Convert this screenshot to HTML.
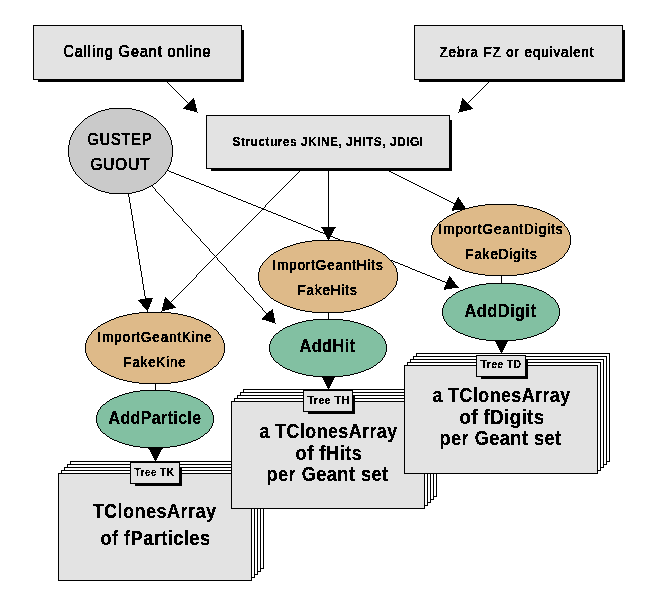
<!DOCTYPE html>
<html><head><meta charset="utf-8"><style>
html,body{margin:0;padding:0;background:#fff;overflow:hidden}
svg{display:block;will-change:transform}
</style></head><body>
<svg width="659" height="607" viewBox="0 0 659 607" shape-rendering="crispEdges">
<path fill="#000" d="M166 81h1v1h-1zM489 81h1v1h-1zM167 82h1v1h-1zM488 82h1v1h-1zM168 83h1v1h-1zM487 83h1v1h-1zM169 84h1v1h-1zM486 84h1v1h-1zM170 85h1v1h-1zM485 85h1v1h-1zM171 86h1v1h-1zM484 86h1v1h-1zM172 87h1v1h-1zM483 87h1v1h-1zM173 88h1v1h-1zM482 88h1v1h-1zM174 89h1v1h-1zM481 89h1v1h-1zM175 90h1v1h-1zM480 90h1v1h-1zM176 91h1v1h-1zM479 91h1v1h-1zM177 92h1v1h-1zM478 92h1v1h-1zM178 93h1v1h-1zM477 93h1v1h-1zM179 94h1v1h-1zM476 94h1v1h-1zM180 95h1v1h-1zM475 95h1v1h-1zM181 96h1v1h-1zM474 96h1v1h-1zM182 97h1v1h-1zM473 97h1v1h-1zM183 98h1v1h-1zM193 98h1v1h-1zM462 98h1v1h-1zM472 98h1v1h-1zM184 99h1v1h-1zM192 99h2v1h-2zM462 99h2v1h-2zM471 99h1v1h-1zM185 100h1v1h-1zM191 100h4v1h-4zM462 100h3v1h-3zM470 100h1v1h-1zM186 101h1v1h-1zM190 101h5v1h-5zM461 101h5v1h-5zM469 101h1v1h-1zM187 102h1v1h-1zM189 102h6v1h-6zM461 102h6v1h-6zM468 102h1v1h-1zM188 103h7v1h-7zM461 103h7v1h-7zM187 104h9v1h-9zM461 104h8v1h-8zM186 105h10v1h-10zM460 105h10v1h-10zM185 106h11v1h-11zM460 106h11v1h-11zM184 107h12v1h-12zM460 107h12v1h-12zM183 108h14v1h-14zM460 108h13v1h-13zM186 109h11v1h-11zM459 109h12v1h-12zM190 110h7v1h-7zM459 110h8v1h-8zM194 111h3v1h-3zM459 111h4v1h-4zM197 112h1v1h-1zM458 112h1v1h-1zM328 169h1v1h-1zM167 170h2v1h-2zM300 170h1v1h-1zM328 170h1v1h-1zM387 170h2v1h-2zM169 171h2v1h-2zM299 171h1v1h-1zM328 171h1v1h-1zM389 171h2v1h-2zM171 172h3v1h-3zM298 172h1v1h-1zM328 172h1v1h-1zM391 172h2v1h-2zM174 173h2v1h-2zM297 173h1v1h-1zM328 173h1v1h-1zM393 173h2v1h-2zM176 174h3v1h-3zM296 174h1v1h-1zM328 174h1v1h-1zM395 174h2v1h-2zM179 175h2v1h-2zM295 175h1v1h-1zM328 175h1v1h-1zM397 175h2v1h-2zM181 176h3v1h-3zM294 176h1v1h-1zM328 176h1v1h-1zM399 176h2v1h-2zM184 177h2v1h-2zM293 177h1v1h-1zM328 177h1v1h-1zM401 177h2v1h-2zM186 178h3v1h-3zM292 178h1v1h-1zM328 178h1v1h-1zM403 178h2v1h-2zM189 179h2v1h-2zM291 179h1v1h-1zM328 179h1v1h-1zM405 179h2v1h-2zM191 180h3v1h-3zM290 180h1v1h-1zM328 180h1v1h-1zM407 180h2v1h-2zM194 181h2v1h-2zM289 181h1v1h-1zM328 181h1v1h-1zM409 181h2v1h-2zM196 182h3v1h-3zM288 182h1v1h-1zM328 182h1v1h-1zM411 182h2v1h-2zM199 183h2v1h-2zM287 183h1v1h-1zM328 183h1v1h-1zM413 183h2v1h-2zM201 184h3v1h-3zM286 184h1v1h-1zM328 184h1v1h-1zM415 184h2v1h-2zM151 185h1v1h-1zM204 185h2v1h-2zM285 185h1v1h-1zM328 185h1v1h-1zM417 185h2v1h-2zM152 186h1v1h-1zM206 186h3v1h-3zM284 186h1v1h-1zM328 186h1v1h-1zM419 186h2v1h-2zM153 187h1v1h-1zM209 187h2v1h-2zM283 187h1v1h-1zM328 187h1v1h-1zM421 187h2v1h-2zM154 188h1v1h-1zM211 188h3v1h-3zM282 188h1v1h-1zM328 188h1v1h-1zM423 188h2v1h-2zM155 189h1v1h-1zM214 189h2v1h-2zM281 189h1v1h-1zM328 189h1v1h-1zM425 189h2v1h-2zM155 190h1v1h-1zM216 190h2v1h-2zM280 190h1v1h-1zM328 190h1v1h-1zM427 190h2v1h-2zM156 191h1v1h-1zM218 191h3v1h-3zM279 191h1v1h-1zM328 191h1v1h-1zM429 191h2v1h-2zM157 192h1v1h-1zM221 192h2v1h-2zM278 192h1v1h-1zM328 192h1v1h-1zM431 192h2v1h-2zM128 193h1v1h-1zM158 193h1v1h-1zM223 193h3v1h-3zM277 193h1v1h-1zM328 193h1v1h-1zM433 193h2v1h-2zM128 194h1v1h-1zM159 194h1v1h-1zM226 194h2v1h-2zM276 194h1v1h-1zM328 194h1v1h-1zM435 194h2v1h-2zM128 195h1v1h-1zM160 195h1v1h-1zM228 195h3v1h-3zM275 195h1v1h-1zM328 195h1v1h-1zM437 195h2v1h-2zM128 196h1v1h-1zM161 196h1v1h-1zM231 196h2v1h-2zM274 196h1v1h-1zM328 196h1v1h-1zM439 196h2v1h-2zM129 197h1v1h-1zM162 197h1v1h-1zM233 197h3v1h-3zM273 197h1v1h-1zM328 197h1v1h-1zM441 197h2v1h-2zM458 197h1v1h-1zM129 198h1v1h-1zM163 198h1v1h-1zM236 198h2v1h-2zM272 198h1v1h-1zM328 198h1v1h-1zM443 198h2v1h-2zM457 198h2v1h-2zM129 199h1v1h-1zM164 199h1v1h-1zM238 199h3v1h-3zM271 199h1v1h-1zM328 199h1v1h-1zM445 199h2v1h-2zM457 199h3v1h-3zM129 200h1v1h-1zM164 200h1v1h-1zM241 200h2v1h-2zM270 200h1v1h-1zM328 200h1v1h-1zM447 200h2v1h-2zM456 200h5v1h-5zM129 201h1v1h-1zM165 201h1v1h-1zM243 201h3v1h-3zM269 201h1v1h-1zM328 201h1v1h-1zM449 201h2v1h-2zM456 201h5v1h-5zM129 202h1v1h-1zM166 202h1v1h-1zM246 202h2v1h-2zM268 202h1v1h-1zM328 202h1v1h-1zM451 202h2v1h-2zM455 202h7v1h-7zM130 203h1v1h-1zM167 203h1v1h-1zM248 203h3v1h-3zM267 203h1v1h-1zM328 203h1v1h-1zM453 203h10v1h-10zM130 204h1v1h-1zM168 204h1v1h-1zM251 204h2v1h-2zM266 204h1v1h-1zM328 204h1v1h-1zM454 204h9v1h-9zM130 205h1v1h-1zM169 205h1v1h-1zM253 205h3v1h-3zM265 205h1v1h-1zM328 205h1v1h-1zM454 205h10v1h-10zM130 206h1v1h-1zM170 206h1v1h-1zM256 206h2v1h-2zM265 206h1v1h-1zM328 206h1v1h-1zM453 206h12v1h-12zM130 207h1v1h-1zM171 207h1v1h-1zM258 207h3v1h-3zM264 207h1v1h-1zM328 207h1v1h-1zM453 207h12v1h-12zM130 208h1v1h-1zM172 208h1v1h-1zM261 208h3v1h-3zM328 208h1v1h-1zM452 208h14v1h-14zM131 209h1v1h-1zM173 209h1v1h-1zM262 209h4v1h-4zM328 209h1v1h-1zM452 209h15v1h-15zM131 210h1v1h-1zM173 210h1v1h-1zM261 210h1v1h-1zM266 210h2v1h-2zM328 210h1v1h-1zM452 210h2v1h-2zM131 211h1v1h-1zM174 211h1v1h-1zM260 211h1v1h-1zM268 211h3v1h-3zM328 211h1v1h-1zM131 212h1v1h-1zM175 212h1v1h-1zM259 212h1v1h-1zM271 212h2v1h-2zM328 212h1v1h-1zM131 213h1v1h-1zM176 213h1v1h-1zM258 213h1v1h-1zM273 213h3v1h-3zM328 213h1v1h-1zM131 214h1v1h-1zM177 214h1v1h-1zM257 214h1v1h-1zM276 214h2v1h-2zM328 214h1v1h-1zM132 215h1v1h-1zM178 215h1v1h-1zM256 215h1v1h-1zM278 215h3v1h-3zM328 215h1v1h-1zM132 216h1v1h-1zM179 216h1v1h-1zM255 216h1v1h-1zM281 216h2v1h-2zM328 216h1v1h-1zM132 217h1v1h-1zM180 217h1v1h-1zM254 217h1v1h-1zM283 217h3v1h-3zM328 217h1v1h-1zM132 218h1v1h-1zM181 218h1v1h-1zM253 218h1v1h-1zM286 218h2v1h-2zM328 218h1v1h-1zM132 219h1v1h-1zM182 219h1v1h-1zM252 219h1v1h-1zM288 219h3v1h-3zM328 219h1v1h-1zM132 220h1v1h-1zM182 220h1v1h-1zM251 220h1v1h-1zM291 220h2v1h-2zM328 220h1v1h-1zM133 221h1v1h-1zM183 221h1v1h-1zM250 221h1v1h-1zM293 221h3v1h-3zM328 221h1v1h-1zM133 222h1v1h-1zM184 222h1v1h-1zM249 222h1v1h-1zM296 222h2v1h-2zM328 222h1v1h-1zM133 223h1v1h-1zM185 223h1v1h-1zM248 223h1v1h-1zM298 223h3v1h-3zM328 223h1v1h-1zM133 224h1v1h-1zM186 224h1v1h-1zM247 224h1v1h-1zM301 224h2v1h-2zM328 224h1v1h-1zM133 225h1v1h-1zM187 225h1v1h-1zM246 225h1v1h-1zM303 225h3v1h-3zM328 225h1v1h-1zM133 226h1v1h-1zM188 226h1v1h-1zM245 226h1v1h-1zM306 226h2v1h-2zM328 226h1v1h-1zM133 227h1v1h-1zM189 227h1v1h-1zM244 227h1v1h-1zM308 227h3v1h-3zM321 227h15v1h-15zM134 228h1v1h-1zM190 228h1v1h-1zM243 228h1v1h-1zM311 228h2v1h-2zM322 228h13v1h-13zM134 229h1v1h-1zM191 229h1v1h-1zM242 229h1v1h-1zM313 229h2v1h-2zM323 229h11v1h-11zM134 230h1v1h-1zM191 230h1v1h-1zM241 230h1v1h-1zM315 230h3v1h-3zM323 230h11v1h-11zM134 231h1v1h-1zM192 231h1v1h-1zM240 231h1v1h-1zM318 231h2v1h-2zM324 231h9v1h-9zM134 232h1v1h-1zM193 232h1v1h-1zM239 232h1v1h-1zM320 232h3v1h-3zM324 232h9v1h-9zM134 233h1v1h-1zM194 233h1v1h-1zM238 233h1v1h-1zM323 233h9v1h-9zM135 234h1v1h-1zM195 234h1v1h-1zM237 234h1v1h-1zM325 234h7v1h-7zM135 235h1v1h-1zM196 235h1v1h-1zM236 235h1v1h-1zM326 235h5v1h-5zM135 236h1v1h-1zM197 236h1v1h-1zM235 236h1v1h-1zM326 236h7v1h-7zM135 237h1v1h-1zM198 237h1v1h-1zM234 237h1v1h-1zM327 237h3v1h-3zM333 237h2v1h-2zM135 238h1v1h-1zM199 238h1v1h-1zM233 238h1v1h-1zM327 238h3v1h-3zM335 238h3v1h-3zM135 239h1v1h-1zM200 239h1v1h-1zM232 239h1v1h-1zM328 239h1v1h-1zM338 239h2v1h-2zM136 240h1v1h-1zM200 240h1v1h-1zM231 240h1v1h-1zM328 240h1v1h-1zM340 240h3v1h-3zM136 241h1v1h-1zM201 241h1v1h-1zM230 241h1v1h-1zM343 241h2v1h-2zM136 242h1v1h-1zM202 242h1v1h-1zM229 242h1v1h-1zM345 242h3v1h-3zM136 243h1v1h-1zM203 243h1v1h-1zM228 243h1v1h-1zM348 243h2v1h-2zM136 244h1v1h-1zM204 244h1v1h-1zM227 244h1v1h-1zM350 244h3v1h-3zM136 245h1v1h-1zM205 245h1v1h-1zM226 245h1v1h-1zM353 245h2v1h-2zM137 246h1v1h-1zM206 246h1v1h-1zM225 246h1v1h-1zM355 246h3v1h-3zM137 247h1v1h-1zM207 247h1v1h-1zM224 247h1v1h-1zM358 247h2v1h-2zM137 248h1v1h-1zM208 248h1v1h-1zM223 248h1v1h-1zM360 248h3v1h-3zM137 249h1v1h-1zM209 249h1v1h-1zM222 249h1v1h-1zM363 249h2v1h-2zM137 250h1v1h-1zM209 250h1v1h-1zM221 250h1v1h-1zM365 250h3v1h-3zM137 251h1v1h-1zM210 251h1v1h-1zM220 251h1v1h-1zM368 251h2v1h-2zM138 252h1v1h-1zM211 252h1v1h-1zM219 252h1v1h-1zM370 252h3v1h-3zM138 253h1v1h-1zM212 253h1v1h-1zM218 253h1v1h-1zM373 253h2v1h-2zM138 254h1v1h-1zM213 254h1v1h-1zM217 254h1v1h-1zM375 254h3v1h-3zM138 255h1v1h-1zM214 255h1v1h-1zM216 255h1v1h-1zM378 255h2v1h-2zM138 256h1v1h-1zM215 256h1v1h-1zM380 256h3v1h-3zM138 257h1v1h-1zM214 257h1v1h-1zM216 257h1v1h-1zM383 257h2v1h-2zM138 258h1v1h-1zM213 258h1v1h-1zM217 258h1v1h-1zM385 258h3v1h-3zM139 259h1v1h-1zM212 259h1v1h-1zM217 259h1v1h-1zM388 259h2v1h-2zM139 260h1v1h-1zM211 260h1v1h-1zM218 260h1v1h-1zM390 260h3v1h-3zM139 261h1v1h-1zM210 261h1v1h-1zM219 261h1v1h-1zM393 261h2v1h-2zM139 262h1v1h-1zM209 262h1v1h-1zM220 262h1v1h-1zM395 262h3v1h-3zM139 263h1v1h-1zM208 263h1v1h-1zM221 263h1v1h-1zM398 263h2v1h-2zM139 264h1v1h-1zM207 264h1v1h-1zM222 264h1v1h-1zM400 264h3v1h-3zM140 265h1v1h-1zM206 265h1v1h-1zM223 265h1v1h-1zM403 265h2v1h-2zM140 266h1v1h-1zM205 266h1v1h-1zM224 266h1v1h-1zM405 266h3v1h-3zM140 267h1v1h-1zM204 267h1v1h-1zM225 267h1v1h-1zM408 267h2v1h-2zM140 268h1v1h-1zM203 268h1v1h-1zM226 268h1v1h-1zM410 268h2v1h-2zM140 269h1v1h-1zM202 269h1v1h-1zM226 269h1v1h-1zM412 269h3v1h-3zM140 270h1v1h-1zM201 270h1v1h-1zM227 270h1v1h-1zM415 270h2v1h-2zM141 271h1v1h-1zM200 271h1v1h-1zM228 271h1v1h-1zM417 271h3v1h-3zM141 272h1v1h-1zM199 272h1v1h-1zM229 272h1v1h-1zM420 272h2v1h-2zM141 273h1v1h-1zM198 273h1v1h-1zM230 273h1v1h-1zM422 273h3v1h-3zM141 274h1v1h-1zM197 274h1v1h-1zM231 274h1v1h-1zM425 274h2v1h-2zM141 275h1v1h-1zM196 275h1v1h-1zM232 275h1v1h-1zM427 275h3v1h-3zM501 275h1v1h-1zM141 276h1v1h-1zM196 276h1v1h-1zM233 276h1v1h-1zM430 276h2v1h-2zM449 276h1v1h-1zM501 276h1v1h-1zM142 277h1v1h-1zM195 277h1v1h-1zM234 277h1v1h-1zM432 277h3v1h-3zM449 277h2v1h-2zM501 277h1v1h-1zM142 278h1v1h-1zM194 278h1v1h-1zM235 278h1v1h-1zM435 278h2v1h-2zM448 278h4v1h-4zM501 278h1v1h-1zM142 279h1v1h-1zM193 279h1v1h-1zM235 279h1v1h-1zM437 279h3v1h-3zM448 279h4v1h-4zM501 279h1v1h-1zM142 280h1v1h-1zM192 280h1v1h-1zM236 280h1v1h-1zM440 280h2v1h-2zM447 280h6v1h-6zM501 280h1v1h-1zM142 281h1v1h-1zM191 281h1v1h-1zM237 281h1v1h-1zM442 281h3v1h-3zM447 281h7v1h-7zM501 281h1v1h-1zM142 282h1v1h-1zM190 282h1v1h-1zM238 282h1v1h-1zM445 282h10v1h-10zM501 282h1v1h-1zM142 283h1v1h-1zM189 283h1v1h-1zM239 283h1v1h-1zM446 283h9v1h-9zM501 283h1v1h-1zM143 284h1v1h-1zM188 284h1v1h-1zM240 284h1v1h-1zM446 284h10v1h-10zM143 285h1v1h-1zM187 285h1v1h-1zM241 285h1v1h-1zM445 285h12v1h-12zM143 286h1v1h-1zM186 286h1v1h-1zM242 286h1v1h-1zM445 286h13v1h-13zM143 287h1v1h-1zM185 287h1v1h-1zM243 287h1v1h-1zM444 287h15v1h-15zM143 288h1v1h-1zM184 288h1v1h-1zM244 288h1v1h-1zM444 288h8v1h-8zM143 289h1v1h-1zM183 289h1v1h-1zM244 289h1v1h-1zM444 289h2v1h-2zM144 290h1v1h-1zM182 290h1v1h-1zM245 290h1v1h-1zM144 291h1v1h-1zM181 291h1v1h-1zM246 291h1v1h-1zM144 292h1v1h-1zM180 292h1v1h-1zM247 292h1v1h-1zM144 293h1v1h-1zM179 293h1v1h-1zM248 293h1v1h-1zM144 294h1v1h-1zM178 294h1v1h-1zM249 294h1v1h-1zM144 295h1v1h-1zM177 295h1v1h-1zM250 295h1v1h-1zM145 296h1v1h-1zM176 296h1v1h-1zM251 296h1v1h-1zM145 297h1v1h-1zM165 297h1v1h-1zM175 297h1v1h-1zM252 297h1v1h-1zM145 298h8v1h-8zM165 298h2v1h-2zM174 298h1v1h-1zM253 298h1v1h-1zM140 299h12v1h-12zM164 299h4v1h-4zM173 299h1v1h-1zM253 299h1v1h-1zM138 300h14v1h-14zM164 300h5v1h-5zM172 300h1v1h-1zM254 300h1v1h-1zM139 301h13v1h-13zM164 301h6v1h-6zM171 301h1v1h-1zM255 301h1v1h-1zM140 302h11v1h-11zM164 302h7v1h-7zM256 302h1v1h-1zM141 303h10v1h-10zM163 303h9v1h-9zM257 303h1v1h-1zM142 304h8v1h-8zM163 304h10v1h-10zM258 304h1v1h-1zM142 305h8v1h-8zM163 305h11v1h-11zM259 305h1v1h-1zM143 306h7v1h-7zM163 306h12v1h-12zM260 306h1v1h-1zM144 307h5v1h-5zM162 307h14v1h-14zM261 307h1v1h-1zM145 308h4v1h-4zM162 308h11v1h-11zM262 308h1v1h-1zM146 309h2v1h-2zM162 309h7v1h-7zM262 309h1v1h-1zM272 309h1v1h-1zM147 310h1v1h-1zM162 310h3v1h-3zM263 310h1v1h-1zM271 310h2v1h-2zM147 311h1v1h-1zM161 311h1v1h-1zM264 311h1v1h-1zM269 311h4v1h-4zM265 312h1v1h-1zM268 312h5v1h-5zM328 312h1v1h-1zM266 313h8v1h-8zM328 313h1v1h-1zM266 314h8v1h-8zM328 314h1v1h-1zM265 315h9v1h-9zM328 315h1v1h-1zM264 316h10v1h-10zM328 316h1v1h-1zM263 317h11v1h-11zM328 317h1v1h-1zM262 318h13v1h-13zM328 318h1v1h-1zM262 319h13v1h-13zM328 319h1v1h-1zM266 320h9v1h-9zM269 321h6v1h-6zM272 322h3v1h-3zM275 323h1v1h-1zM494 340h15v1h-15zM495 341h13v1h-13zM496 342h11v1h-11zM496 343h11v1h-11zM497 344h9v1h-9zM497 345h9v1h-9zM498 346h7v1h-7zM498 347h7v1h-7zM499 348h5v1h-5zM499 349h5v1h-5zM500 350h3v1h-3zM500 351h3v1h-3zM501 352h1v1h-1zM501 353h1v1h-1zM321 376h15v1h-15zM322 377h13v1h-13zM323 378h11v1h-11zM323 379h11v1h-11zM324 380h9v1h-9zM324 381h9v1h-9zM325 382h7v1h-7zM155 383h1v1h-1zM325 383h7v1h-7zM155 384h1v1h-1zM326 384h5v1h-5zM155 385h1v1h-1zM326 385h5v1h-5zM155 386h1v1h-1zM327 386h3v1h-3zM155 387h1v1h-1zM327 387h3v1h-3zM155 388h1v1h-1zM328 388h1v1h-1zM155 389h1v1h-1zM328 389h1v1h-1zM155 390h1v1h-1zM148 448h15v1h-15zM149 449h13v1h-13zM150 450h11v1h-11zM150 451h11v1h-11zM151 452h9v1h-9zM151 453h9v1h-9zM152 454h7v1h-7zM152 455h7v1h-7zM153 456h5v1h-5zM153 457h5v1h-5zM154 458h3v1h-3zM154 459h3v1h-3zM155 460h1v1h-1zM155 461h1v1h-1z"/><path fill="#cacaca" d="M109 109h23v1h-23zM105 110h31v1h-31zM101 111h39v1h-39zM98 112h45v1h-45zM96 113h49v1h-49zM94 114h53v1h-53zM92 115h57v1h-57zM90 116h61v1h-61zM88 117h65v1h-65zM87 118h67v1h-67zM85 119h71v1h-71zM84 120h73v1h-73zM83 121h75v1h-75zM82 122h77v1h-77zM81 123h79v1h-79zM80 124h81v1h-81zM79 125h83v1h-83zM78 126h85v1h-85zM77 127h87v1h-87zM76 128h89v1h-89zM76 129h89v1h-89zM75 130h91v1h-91zM74 131h93v1h-93zM74 132h93v1h-93zM73 133h95v1h-95zM73 134h95v1h-95zM72 135h97v1h-97zM72 136h97v1h-97zM71 137h99v1h-99zM71 138h99v1h-99zM71 139h99v1h-99zM70 140h101v1h-101zM70 141h101v1h-101zM70 142h101v1h-101zM70 143h101v1h-101zM70 144h101v1h-101zM69 145h103v1h-103zM69 146h103v1h-103zM69 147h103v1h-103zM69 148h103v1h-103zM69 149h103v1h-103zM69 150h103v1h-103zM69 151h103v1h-103zM69 152h103v1h-103zM69 153h103v1h-103zM69 154h103v1h-103zM69 155h103v1h-103zM69 156h103v1h-103zM70 157h101v1h-101zM70 158h101v1h-101zM70 159h101v1h-101zM70 160h101v1h-101zM70 161h101v1h-101zM71 162h99v1h-99zM71 163h99v1h-99zM71 164h99v1h-99zM72 165h97v1h-97zM72 166h97v1h-97zM73 167h95v1h-95zM73 168h95v1h-95zM74 169h93v1h-93zM74 170h93v1h-93zM75 171h91v1h-91zM76 172h89v1h-89zM76 173h89v1h-89zM77 174h87v1h-87zM78 175h85v1h-85zM79 176h83v1h-83zM80 177h81v1h-81zM81 178h79v1h-79zM82 179h77v1h-77zM83 180h75v1h-75zM84 181h73v1h-73zM85 182h71v1h-71zM87 183h67v1h-67zM88 184h65v1h-65zM90 185h61v1h-61zM92 186h57v1h-57zM94 187h53v1h-53zM96 188h49v1h-49zM98 189h45v1h-45zM101 190h39v1h-39zM105 191h31v1h-31zM109 192h23v1h-23z"/><path fill="#000" d="M109 108h23v1h-23zM105 109h4v1h-4zM132 109h4v1h-4zM101 110h4v1h-4zM136 110h4v1h-4zM98 111h3v1h-3zM140 111h3v1h-3zM96 112h2v1h-2zM143 112h2v1h-2zM94 113h2v1h-2zM145 113h2v1h-2zM92 114h2v1h-2zM147 114h2v1h-2zM90 115h2v1h-2zM149 115h2v1h-2zM88 116h2v1h-2zM151 116h2v1h-2zM87 117h1v1h-1zM153 117h1v1h-1zM85 118h2v1h-2zM154 118h2v1h-2zM84 119h1v1h-1zM156 119h1v1h-1zM83 120h1v1h-1zM157 120h1v1h-1zM82 121h1v1h-1zM158 121h1v1h-1zM81 122h1v1h-1zM159 122h1v1h-1zM80 123h1v1h-1zM160 123h1v1h-1zM79 124h1v1h-1zM161 124h1v1h-1zM78 125h1v1h-1zM162 125h1v1h-1zM77 126h1v1h-1zM163 126h1v1h-1zM76 127h1v1h-1zM164 127h1v1h-1zM75 128h1v1h-1zM165 128h1v1h-1zM75 129h1v1h-1zM165 129h1v1h-1zM74 130h1v1h-1zM166 130h1v1h-1zM73 131h1v1h-1zM167 131h1v1h-1zM73 132h1v1h-1zM167 132h1v1h-1zM72 133h1v1h-1zM168 133h1v1h-1zM72 134h1v1h-1zM168 134h1v1h-1zM71 135h1v1h-1zM169 135h1v1h-1zM71 136h1v1h-1zM169 136h1v1h-1zM70 137h1v1h-1zM170 137h1v1h-1zM70 138h1v1h-1zM170 138h1v1h-1zM70 139h1v1h-1zM170 139h1v1h-1zM69 140h1v1h-1zM171 140h1v1h-1zM69 141h1v1h-1zM171 141h1v1h-1zM69 142h1v1h-1zM171 142h1v1h-1zM69 143h1v1h-1zM171 143h1v1h-1zM69 144h1v1h-1zM171 144h1v1h-1zM68 145h1v1h-1zM172 145h1v1h-1zM68 146h1v1h-1zM172 146h1v1h-1zM68 147h1v1h-1zM172 147h1v1h-1zM68 148h1v1h-1zM172 148h1v1h-1zM68 149h1v1h-1zM172 149h1v1h-1zM68 150h1v1h-1zM172 150h1v1h-1zM68 151h1v1h-1zM172 151h1v1h-1zM68 152h1v1h-1zM172 152h1v1h-1zM68 153h1v1h-1zM172 153h1v1h-1zM68 154h1v1h-1zM172 154h1v1h-1zM68 155h1v1h-1zM172 155h1v1h-1zM68 156h1v1h-1zM172 156h1v1h-1zM69 157h1v1h-1zM171 157h1v1h-1zM69 158h1v1h-1zM171 158h1v1h-1zM69 159h1v1h-1zM171 159h1v1h-1zM69 160h1v1h-1zM171 160h1v1h-1zM69 161h1v1h-1zM171 161h1v1h-1zM70 162h1v1h-1zM170 162h1v1h-1zM70 163h1v1h-1zM170 163h1v1h-1zM70 164h1v1h-1zM170 164h1v1h-1zM71 165h1v1h-1zM169 165h1v1h-1zM71 166h1v1h-1zM169 166h1v1h-1zM72 167h1v1h-1zM168 167h1v1h-1zM72 168h1v1h-1zM168 168h1v1h-1zM73 169h1v1h-1zM167 169h1v1h-1zM73 170h1v1h-1zM167 170h1v1h-1zM74 171h1v1h-1zM166 171h1v1h-1zM75 172h1v1h-1zM165 172h1v1h-1zM75 173h1v1h-1zM165 173h1v1h-1zM76 174h1v1h-1zM164 174h1v1h-1zM77 175h1v1h-1zM163 175h1v1h-1zM78 176h1v1h-1zM162 176h1v1h-1zM79 177h1v1h-1zM161 177h1v1h-1zM80 178h1v1h-1zM160 178h1v1h-1zM81 179h1v1h-1zM159 179h1v1h-1zM82 180h1v1h-1zM158 180h1v1h-1zM83 181h1v1h-1zM157 181h1v1h-1zM84 182h1v1h-1zM156 182h1v1h-1zM85 183h2v1h-2zM154 183h2v1h-2zM87 184h1v1h-1zM153 184h1v1h-1zM88 185h2v1h-2zM151 185h2v1h-2zM90 186h2v1h-2zM149 186h2v1h-2zM92 187h2v1h-2zM147 187h2v1h-2zM94 188h2v1h-2zM145 188h2v1h-2zM96 189h2v1h-2zM143 189h2v1h-2zM98 190h3v1h-3zM140 190h3v1h-3zM101 191h4v1h-4zM136 191h4v1h-4zM105 192h4v1h-4zM132 192h4v1h-4zM109 193h23v1h-23z"/><path fill="#deba89" d="M139 313h32v1h-32zM132 314h46v1h-46zM127 315h56v1h-56zM123 316h64v1h-64zM119 317h72v1h-72zM116 318h78v1h-78zM114 319h82v1h-82zM111 320h88v1h-88zM109 321h92v1h-92zM107 322h96v1h-96zM105 323h100v1h-100zM103 324h104v1h-104zM101 325h108v1h-108zM100 326h110v1h-110zM98 327h114v1h-114zM97 328h116v1h-116zM96 329h118v1h-118zM94 330h122v1h-122zM93 331h124v1h-124zM92 332h126v1h-126zM92 333h126v1h-126zM91 334h128v1h-128zM90 335h130v1h-130zM89 336h132v1h-132zM89 337h132v1h-132zM88 338h134v1h-134zM88 339h134v1h-134zM87 340h136v1h-136zM87 341h136v1h-136zM87 342h136v1h-136zM86 343h138v1h-138zM86 344h138v1h-138zM86 345h138v1h-138zM86 346h138v1h-138zM86 347h138v1h-138zM86 348h138v1h-138zM86 349h138v1h-138zM86 350h138v1h-138zM86 351h138v1h-138zM86 352h138v1h-138zM87 353h136v1h-136zM87 354h136v1h-136zM87 355h136v1h-136zM88 356h134v1h-134zM88 357h134v1h-134zM89 358h132v1h-132zM89 359h132v1h-132zM90 360h130v1h-130zM91 361h128v1h-128zM92 362h126v1h-126zM92 363h126v1h-126zM93 364h124v1h-124zM94 365h122v1h-122zM96 366h118v1h-118zM97 367h116v1h-116zM98 368h114v1h-114zM100 369h110v1h-110zM101 370h108v1h-108zM103 371h104v1h-104zM105 372h100v1h-100zM107 373h96v1h-96zM109 374h92v1h-92zM111 375h88v1h-88zM114 376h82v1h-82zM116 377h78v1h-78zM119 378h72v1h-72zM123 379h64v1h-64zM127 380h56v1h-56zM132 381h46v1h-46zM139 382h32v1h-32z"/><path fill="#000" d="M139 312h32v1h-32zM132 313h7v1h-7zM171 313h7v1h-7zM127 314h5v1h-5zM178 314h5v1h-5zM123 315h4v1h-4zM183 315h4v1h-4zM119 316h4v1h-4zM187 316h4v1h-4zM116 317h3v1h-3zM191 317h3v1h-3zM114 318h2v1h-2zM194 318h2v1h-2zM111 319h3v1h-3zM196 319h3v1h-3zM109 320h2v1h-2zM199 320h2v1h-2zM107 321h2v1h-2zM201 321h2v1h-2zM105 322h2v1h-2zM203 322h2v1h-2zM103 323h2v1h-2zM205 323h2v1h-2zM101 324h2v1h-2zM207 324h2v1h-2zM100 325h1v1h-1zM209 325h1v1h-1zM98 326h2v1h-2zM210 326h2v1h-2zM97 327h1v1h-1zM212 327h1v1h-1zM96 328h1v1h-1zM213 328h1v1h-1zM94 329h2v1h-2zM214 329h2v1h-2zM93 330h1v1h-1zM216 330h1v1h-1zM92 331h1v1h-1zM217 331h1v1h-1zM91 332h1v1h-1zM218 332h1v1h-1zM91 333h1v1h-1zM218 333h1v1h-1zM90 334h1v1h-1zM219 334h1v1h-1zM89 335h1v1h-1zM220 335h1v1h-1zM88 336h1v1h-1zM221 336h1v1h-1zM88 337h1v1h-1zM221 337h1v1h-1zM87 338h1v1h-1zM222 338h1v1h-1zM87 339h1v1h-1zM222 339h1v1h-1zM86 340h1v1h-1zM223 340h1v1h-1zM86 341h1v1h-1zM223 341h1v1h-1zM86 342h1v1h-1zM223 342h1v1h-1zM85 343h1v1h-1zM224 343h1v1h-1zM85 344h1v1h-1zM224 344h1v1h-1zM85 345h1v1h-1zM224 345h1v1h-1zM85 346h1v1h-1zM224 346h1v1h-1zM85 347h1v1h-1zM224 347h1v1h-1zM85 348h1v1h-1zM224 348h1v1h-1zM85 349h1v1h-1zM224 349h1v1h-1zM85 350h1v1h-1zM224 350h1v1h-1zM85 351h1v1h-1zM224 351h1v1h-1zM85 352h1v1h-1zM224 352h1v1h-1zM86 353h1v1h-1zM223 353h1v1h-1zM86 354h1v1h-1zM223 354h1v1h-1zM86 355h1v1h-1zM223 355h1v1h-1zM87 356h1v1h-1zM222 356h1v1h-1zM87 357h1v1h-1zM222 357h1v1h-1zM88 358h1v1h-1zM221 358h1v1h-1zM88 359h1v1h-1zM221 359h1v1h-1zM89 360h1v1h-1zM220 360h1v1h-1zM90 361h1v1h-1zM219 361h1v1h-1zM91 362h1v1h-1zM218 362h1v1h-1zM91 363h1v1h-1zM218 363h1v1h-1zM92 364h1v1h-1zM217 364h1v1h-1zM93 365h1v1h-1zM216 365h1v1h-1zM94 366h2v1h-2zM214 366h2v1h-2zM96 367h1v1h-1zM213 367h1v1h-1zM97 368h1v1h-1zM212 368h1v1h-1zM98 369h2v1h-2zM210 369h2v1h-2zM100 370h1v1h-1zM209 370h1v1h-1zM101 371h2v1h-2zM207 371h2v1h-2zM103 372h2v1h-2zM205 372h2v1h-2zM105 373h2v1h-2zM203 373h2v1h-2zM107 374h2v1h-2zM201 374h2v1h-2zM109 375h2v1h-2zM199 375h2v1h-2zM111 376h3v1h-3zM196 376h3v1h-3zM114 377h2v1h-2zM194 377h2v1h-2zM116 378h3v1h-3zM191 378h3v1h-3zM119 379h4v1h-4zM187 379h4v1h-4zM123 380h4v1h-4zM183 380h4v1h-4zM127 381h5v1h-5zM178 381h5v1h-5zM132 382h7v1h-7zM171 382h7v1h-7zM139 383h32v1h-32z"/><path fill="#deba89" d="M312 241h32v1h-32zM305 242h46v1h-46zM300 243h56v1h-56zM296 244h64v1h-64zM293 245h70v1h-70zM290 246h76v1h-76zM287 247h82v1h-82zM284 248h88v1h-88zM282 249h92v1h-92zM280 250h96v1h-96zM278 251h100v1h-100zM276 252h104v1h-104zM274 253h108v1h-108zM273 254h110v1h-110zM271 255h114v1h-114zM270 256h116v1h-116zM269 257h118v1h-118zM268 258h120v1h-120zM267 259h122v1h-122zM266 260h124v1h-124zM265 261h126v1h-126zM264 262h128v1h-128zM263 263h130v1h-130zM263 264h130v1h-130zM262 265h132v1h-132zM261 266h134v1h-134zM261 267h134v1h-134zM260 268h136v1h-136zM260 269h136v1h-136zM260 270h136v1h-136zM260 271h136v1h-136zM259 272h138v1h-138zM259 273h138v1h-138zM259 274h138v1h-138zM259 275h138v1h-138zM259 276h138v1h-138zM259 277h138v1h-138zM259 278h138v1h-138zM259 279h138v1h-138zM259 280h138v1h-138zM260 281h136v1h-136zM260 282h136v1h-136zM260 283h136v1h-136zM260 284h136v1h-136zM261 285h134v1h-134zM261 286h134v1h-134zM262 287h132v1h-132zM263 288h130v1h-130zM263 289h130v1h-130zM264 290h128v1h-128zM265 291h126v1h-126zM266 292h124v1h-124zM267 293h122v1h-122zM268 294h120v1h-120zM269 295h118v1h-118zM270 296h116v1h-116zM271 297h114v1h-114zM273 298h110v1h-110zM274 299h108v1h-108zM276 300h104v1h-104zM278 301h100v1h-100zM280 302h96v1h-96zM282 303h92v1h-92zM284 304h88v1h-88zM287 305h82v1h-82zM290 306h76v1h-76zM293 307h70v1h-70zM296 308h64v1h-64zM300 309h56v1h-56zM305 310h46v1h-46zM312 311h32v1h-32z"/><path fill="#000" d="M312 240h32v1h-32zM305 241h7v1h-7zM344 241h7v1h-7zM300 242h5v1h-5zM351 242h5v1h-5zM296 243h4v1h-4zM356 243h4v1h-4zM293 244h3v1h-3zM360 244h3v1h-3zM290 245h3v1h-3zM363 245h3v1h-3zM287 246h3v1h-3zM366 246h3v1h-3zM284 247h3v1h-3zM369 247h3v1h-3zM282 248h2v1h-2zM372 248h2v1h-2zM280 249h2v1h-2zM374 249h2v1h-2zM278 250h2v1h-2zM376 250h2v1h-2zM276 251h2v1h-2zM378 251h2v1h-2zM274 252h2v1h-2zM380 252h2v1h-2zM273 253h1v1h-1zM382 253h1v1h-1zM271 254h2v1h-2zM383 254h2v1h-2zM270 255h1v1h-1zM385 255h1v1h-1zM269 256h1v1h-1zM386 256h1v1h-1zM268 257h1v1h-1zM387 257h1v1h-1zM267 258h1v1h-1zM388 258h1v1h-1zM266 259h1v1h-1zM389 259h1v1h-1zM265 260h1v1h-1zM390 260h1v1h-1zM264 261h1v1h-1zM391 261h1v1h-1zM263 262h1v1h-1zM392 262h1v1h-1zM262 263h1v1h-1zM393 263h1v1h-1zM262 264h1v1h-1zM393 264h1v1h-1zM261 265h1v1h-1zM394 265h1v1h-1zM260 266h1v1h-1zM395 266h1v1h-1zM260 267h1v1h-1zM395 267h1v1h-1zM259 268h1v1h-1zM396 268h1v1h-1zM259 269h1v1h-1zM396 269h1v1h-1zM259 270h1v1h-1zM396 270h1v1h-1zM259 271h1v1h-1zM396 271h1v1h-1zM258 272h1v1h-1zM397 272h1v1h-1zM258 273h1v1h-1zM397 273h1v1h-1zM258 274h1v1h-1zM397 274h1v1h-1zM258 275h1v1h-1zM397 275h1v1h-1zM258 276h1v1h-1zM397 276h1v1h-1zM258 277h1v1h-1zM397 277h1v1h-1zM258 278h1v1h-1zM397 278h1v1h-1zM258 279h1v1h-1zM397 279h1v1h-1zM258 280h1v1h-1zM397 280h1v1h-1zM259 281h1v1h-1zM396 281h1v1h-1zM259 282h1v1h-1zM396 282h1v1h-1zM259 283h1v1h-1zM396 283h1v1h-1zM259 284h1v1h-1zM396 284h1v1h-1zM260 285h1v1h-1zM395 285h1v1h-1zM260 286h1v1h-1zM395 286h1v1h-1zM261 287h1v1h-1zM394 287h1v1h-1zM262 288h1v1h-1zM393 288h1v1h-1zM262 289h1v1h-1zM393 289h1v1h-1zM263 290h1v1h-1zM392 290h1v1h-1zM264 291h1v1h-1zM391 291h1v1h-1zM265 292h1v1h-1zM390 292h1v1h-1zM266 293h1v1h-1zM389 293h1v1h-1zM267 294h1v1h-1zM388 294h1v1h-1zM268 295h1v1h-1zM387 295h1v1h-1zM269 296h1v1h-1zM386 296h1v1h-1zM270 297h1v1h-1zM385 297h1v1h-1zM271 298h2v1h-2zM383 298h2v1h-2zM273 299h1v1h-1zM382 299h1v1h-1zM274 300h2v1h-2zM380 300h2v1h-2zM276 301h2v1h-2zM378 301h2v1h-2zM278 302h2v1h-2zM376 302h2v1h-2zM280 303h2v1h-2zM374 303h2v1h-2zM282 304h2v1h-2zM372 304h2v1h-2zM284 305h3v1h-3zM369 305h3v1h-3zM287 306h3v1h-3zM366 306h3v1h-3zM290 307h3v1h-3zM363 307h3v1h-3zM293 308h3v1h-3zM360 308h3v1h-3zM296 309h4v1h-4zM356 309h4v1h-4zM300 310h5v1h-5zM351 310h5v1h-5zM305 311h7v1h-7zM344 311h7v1h-7zM312 312h32v1h-32z"/><path fill="#deba89" d="M485 205h32v1h-32zM478 206h46v1h-46zM473 207h56v1h-56zM469 208h64v1h-64zM465 209h72v1h-72zM462 210h78v1h-78zM460 211h82v1h-82zM457 212h88v1h-88zM455 213h92v1h-92zM453 214h96v1h-96zM451 215h100v1h-100zM449 216h104v1h-104zM447 217h108v1h-108zM446 218h110v1h-110zM444 219h114v1h-114zM443 220h116v1h-116zM442 221h118v1h-118zM440 222h122v1h-122zM439 223h124v1h-124zM438 224h126v1h-126zM438 225h126v1h-126zM437 226h128v1h-128zM436 227h130v1h-130zM435 228h132v1h-132zM435 229h132v1h-132zM434 230h134v1h-134zM434 231h134v1h-134zM433 232h136v1h-136zM433 233h136v1h-136zM433 234h136v1h-136zM432 235h138v1h-138zM432 236h138v1h-138zM432 237h138v1h-138zM432 238h138v1h-138zM432 239h138v1h-138zM432 240h138v1h-138zM432 241h138v1h-138zM432 242h138v1h-138zM432 243h138v1h-138zM432 244h138v1h-138zM433 245h136v1h-136zM433 246h136v1h-136zM433 247h136v1h-136zM434 248h134v1h-134zM434 249h134v1h-134zM435 250h132v1h-132zM435 251h132v1h-132zM436 252h130v1h-130zM437 253h128v1h-128zM438 254h126v1h-126zM438 255h126v1h-126zM439 256h124v1h-124zM440 257h122v1h-122zM442 258h118v1h-118zM443 259h116v1h-116zM444 260h114v1h-114zM446 261h110v1h-110zM447 262h108v1h-108zM449 263h104v1h-104zM451 264h100v1h-100zM453 265h96v1h-96zM455 266h92v1h-92zM457 267h88v1h-88zM460 268h82v1h-82zM462 269h78v1h-78zM465 270h72v1h-72zM469 271h64v1h-64zM473 272h56v1h-56zM478 273h46v1h-46zM485 274h32v1h-32z"/><path fill="#000" d="M485 204h32v1h-32zM478 205h7v1h-7zM517 205h7v1h-7zM473 206h5v1h-5zM524 206h5v1h-5zM469 207h4v1h-4zM529 207h4v1h-4zM465 208h4v1h-4zM533 208h4v1h-4zM462 209h3v1h-3zM537 209h3v1h-3zM460 210h2v1h-2zM540 210h2v1h-2zM457 211h3v1h-3zM542 211h3v1h-3zM455 212h2v1h-2zM545 212h2v1h-2zM453 213h2v1h-2zM547 213h2v1h-2zM451 214h2v1h-2zM549 214h2v1h-2zM449 215h2v1h-2zM551 215h2v1h-2zM447 216h2v1h-2zM553 216h2v1h-2zM446 217h1v1h-1zM555 217h1v1h-1zM444 218h2v1h-2zM556 218h2v1h-2zM443 219h1v1h-1zM558 219h1v1h-1zM442 220h1v1h-1zM559 220h1v1h-1zM440 221h2v1h-2zM560 221h2v1h-2zM439 222h1v1h-1zM562 222h1v1h-1zM438 223h1v1h-1zM563 223h1v1h-1zM437 224h1v1h-1zM564 224h1v1h-1zM437 225h1v1h-1zM564 225h1v1h-1zM436 226h1v1h-1zM565 226h1v1h-1zM435 227h1v1h-1zM566 227h1v1h-1zM434 228h1v1h-1zM567 228h1v1h-1zM434 229h1v1h-1zM567 229h1v1h-1zM433 230h1v1h-1zM568 230h1v1h-1zM433 231h1v1h-1zM568 231h1v1h-1zM432 232h1v1h-1zM569 232h1v1h-1zM432 233h1v1h-1zM569 233h1v1h-1zM432 234h1v1h-1zM569 234h1v1h-1zM431 235h1v1h-1zM570 235h1v1h-1zM431 236h1v1h-1zM570 236h1v1h-1zM431 237h1v1h-1zM570 237h1v1h-1zM431 238h1v1h-1zM570 238h1v1h-1zM431 239h1v1h-1zM570 239h1v1h-1zM431 240h1v1h-1zM570 240h1v1h-1zM431 241h1v1h-1zM570 241h1v1h-1zM431 242h1v1h-1zM570 242h1v1h-1zM431 243h1v1h-1zM570 243h1v1h-1zM431 244h1v1h-1zM570 244h1v1h-1zM432 245h1v1h-1zM569 245h1v1h-1zM432 246h1v1h-1zM569 246h1v1h-1zM432 247h1v1h-1zM569 247h1v1h-1zM433 248h1v1h-1zM568 248h1v1h-1zM433 249h1v1h-1zM568 249h1v1h-1zM434 250h1v1h-1zM567 250h1v1h-1zM434 251h1v1h-1zM567 251h1v1h-1zM435 252h1v1h-1zM566 252h1v1h-1zM436 253h1v1h-1zM565 253h1v1h-1zM437 254h1v1h-1zM564 254h1v1h-1zM437 255h1v1h-1zM564 255h1v1h-1zM438 256h1v1h-1zM563 256h1v1h-1zM439 257h1v1h-1zM562 257h1v1h-1zM440 258h2v1h-2zM560 258h2v1h-2zM442 259h1v1h-1zM559 259h1v1h-1zM443 260h1v1h-1zM558 260h1v1h-1zM444 261h2v1h-2zM556 261h2v1h-2zM446 262h1v1h-1zM555 262h1v1h-1zM447 263h2v1h-2zM553 263h2v1h-2zM449 264h2v1h-2zM551 264h2v1h-2zM451 265h2v1h-2zM549 265h2v1h-2zM453 266h2v1h-2zM547 266h2v1h-2zM455 267h2v1h-2zM545 267h2v1h-2zM457 268h3v1h-3zM542 268h3v1h-3zM460 269h2v1h-2zM540 269h2v1h-2zM462 270h3v1h-3zM537 270h3v1h-3zM465 271h4v1h-4zM533 271h4v1h-4zM469 272h4v1h-4zM529 272h4v1h-4zM473 273h5v1h-5zM524 273h5v1h-5zM478 274h7v1h-7zM517 274h7v1h-7zM485 275h32v1h-32z"/><path fill="#82c0a2" d="M140 391h30v1h-30zM133 392h44v1h-44zM129 393h52v1h-52zM125 394h60v1h-60zM122 395h66v1h-66zM119 396h72v1h-72zM117 397h76v1h-76zM114 398h82v1h-82zM112 399h86v1h-86zM110 400h90v1h-90zM109 401h92v1h-92zM107 402h96v1h-96zM106 403h98v1h-98zM105 404h100v1h-100zM103 405h104v1h-104zM102 406h106v1h-106zM101 407h108v1h-108zM101 408h108v1h-108zM100 409h110v1h-110zM99 410h112v1h-112zM99 411h112v1h-112zM98 412h114v1h-114zM98 413h114v1h-114zM98 414h114v1h-114zM97 415h116v1h-116zM97 416h116v1h-116zM97 417h116v1h-116zM97 418h116v1h-116zM97 419h116v1h-116zM97 420h116v1h-116zM97 421h116v1h-116zM97 422h116v1h-116zM98 423h114v1h-114zM98 424h114v1h-114zM98 425h114v1h-114zM99 426h112v1h-112zM99 427h112v1h-112zM100 428h110v1h-110zM101 429h108v1h-108zM101 430h108v1h-108zM102 431h106v1h-106zM103 432h104v1h-104zM105 433h100v1h-100zM106 434h98v1h-98zM107 435h96v1h-96zM109 436h92v1h-92zM110 437h90v1h-90zM112 438h86v1h-86zM114 439h82v1h-82zM117 440h76v1h-76zM119 441h72v1h-72zM122 442h66v1h-66zM125 443h60v1h-60zM129 444h52v1h-52zM133 445h44v1h-44zM140 446h30v1h-30z"/><path fill="#000" d="M140 390h30v1h-30zM133 391h7v1h-7zM170 391h7v1h-7zM129 392h4v1h-4zM177 392h4v1h-4zM125 393h4v1h-4zM181 393h4v1h-4zM122 394h3v1h-3zM185 394h3v1h-3zM119 395h3v1h-3zM188 395h3v1h-3zM117 396h2v1h-2zM191 396h2v1h-2zM114 397h3v1h-3zM193 397h3v1h-3zM112 398h2v1h-2zM196 398h2v1h-2zM110 399h2v1h-2zM198 399h2v1h-2zM109 400h1v1h-1zM200 400h1v1h-1zM107 401h2v1h-2zM201 401h2v1h-2zM106 402h1v1h-1zM203 402h1v1h-1zM105 403h1v1h-1zM204 403h1v1h-1zM103 404h2v1h-2zM205 404h2v1h-2zM102 405h1v1h-1zM207 405h1v1h-1zM101 406h1v1h-1zM208 406h1v1h-1zM100 407h1v1h-1zM209 407h1v1h-1zM100 408h1v1h-1zM209 408h1v1h-1zM99 409h1v1h-1zM210 409h1v1h-1zM98 410h1v1h-1zM211 410h1v1h-1zM98 411h1v1h-1zM211 411h1v1h-1zM97 412h1v1h-1zM212 412h1v1h-1zM97 413h1v1h-1zM212 413h1v1h-1zM97 414h1v1h-1zM212 414h1v1h-1zM96 415h1v1h-1zM213 415h1v1h-1zM96 416h1v1h-1zM213 416h1v1h-1zM96 417h1v1h-1zM213 417h1v1h-1zM96 418h1v1h-1zM213 418h1v1h-1zM96 419h1v1h-1zM213 419h1v1h-1zM96 420h1v1h-1zM213 420h1v1h-1zM96 421h1v1h-1zM213 421h1v1h-1zM96 422h1v1h-1zM213 422h1v1h-1zM97 423h1v1h-1zM212 423h1v1h-1zM97 424h1v1h-1zM212 424h1v1h-1zM97 425h1v1h-1zM212 425h1v1h-1zM98 426h1v1h-1zM211 426h1v1h-1zM98 427h1v1h-1zM211 427h1v1h-1zM99 428h1v1h-1zM210 428h1v1h-1zM100 429h1v1h-1zM209 429h1v1h-1zM100 430h1v1h-1zM209 430h1v1h-1zM101 431h1v1h-1zM208 431h1v1h-1zM102 432h1v1h-1zM207 432h1v1h-1zM103 433h2v1h-2zM205 433h2v1h-2zM105 434h1v1h-1zM204 434h1v1h-1zM106 435h1v1h-1zM203 435h1v1h-1zM107 436h2v1h-2zM201 436h2v1h-2zM109 437h1v1h-1zM200 437h1v1h-1zM110 438h2v1h-2zM198 438h2v1h-2zM112 439h2v1h-2zM196 439h2v1h-2zM114 440h3v1h-3zM193 440h3v1h-3zM117 441h2v1h-2zM191 441h2v1h-2zM119 442h3v1h-3zM188 442h3v1h-3zM122 443h3v1h-3zM185 443h3v1h-3zM125 444h4v1h-4zM181 444h4v1h-4zM129 445h4v1h-4zM177 445h4v1h-4zM133 446h7v1h-7zM170 446h7v1h-7zM140 447h30v1h-30z"/><path fill="#82c0a2" d="M313 320h30v1h-30zM306 321h44v1h-44zM302 322h52v1h-52zM298 323h60v1h-60zM295 324h66v1h-66zM292 325h72v1h-72zM290 326h76v1h-76zM287 327h82v1h-82zM285 328h86v1h-86zM283 329h90v1h-90zM282 330h92v1h-92zM280 331h96v1h-96zM279 332h98v1h-98zM278 333h100v1h-100zM276 334h104v1h-104zM275 335h106v1h-106zM274 336h108v1h-108zM274 337h108v1h-108zM273 338h110v1h-110zM272 339h112v1h-112zM272 340h112v1h-112zM271 341h114v1h-114zM271 342h114v1h-114zM271 343h114v1h-114zM270 344h116v1h-116zM270 345h116v1h-116zM270 346h116v1h-116zM270 347h116v1h-116zM270 348h116v1h-116zM270 349h116v1h-116zM270 350h116v1h-116zM270 351h116v1h-116zM271 352h114v1h-114zM271 353h114v1h-114zM271 354h114v1h-114zM272 355h112v1h-112zM272 356h112v1h-112zM273 357h110v1h-110zM274 358h108v1h-108zM274 359h108v1h-108zM275 360h106v1h-106zM276 361h104v1h-104zM278 362h100v1h-100zM279 363h98v1h-98zM280 364h96v1h-96zM282 365h92v1h-92zM283 366h90v1h-90zM285 367h86v1h-86zM287 368h82v1h-82zM290 369h76v1h-76zM292 370h72v1h-72zM295 371h66v1h-66zM298 372h60v1h-60zM302 373h52v1h-52zM306 374h44v1h-44zM313 375h30v1h-30z"/><path fill="#000" d="M313 319h30v1h-30zM306 320h7v1h-7zM343 320h7v1h-7zM302 321h4v1h-4zM350 321h4v1h-4zM298 322h4v1h-4zM354 322h4v1h-4zM295 323h3v1h-3zM358 323h3v1h-3zM292 324h3v1h-3zM361 324h3v1h-3zM290 325h2v1h-2zM364 325h2v1h-2zM287 326h3v1h-3zM366 326h3v1h-3zM285 327h2v1h-2zM369 327h2v1h-2zM283 328h2v1h-2zM371 328h2v1h-2zM282 329h1v1h-1zM373 329h1v1h-1zM280 330h2v1h-2zM374 330h2v1h-2zM279 331h1v1h-1zM376 331h1v1h-1zM278 332h1v1h-1zM377 332h1v1h-1zM276 333h2v1h-2zM378 333h2v1h-2zM275 334h1v1h-1zM380 334h1v1h-1zM274 335h1v1h-1zM381 335h1v1h-1zM273 336h1v1h-1zM382 336h1v1h-1zM273 337h1v1h-1zM382 337h1v1h-1zM272 338h1v1h-1zM383 338h1v1h-1zM271 339h1v1h-1zM384 339h1v1h-1zM271 340h1v1h-1zM384 340h1v1h-1zM270 341h1v1h-1zM385 341h1v1h-1zM270 342h1v1h-1zM385 342h1v1h-1zM270 343h1v1h-1zM385 343h1v1h-1zM269 344h1v1h-1zM386 344h1v1h-1zM269 345h1v1h-1zM386 345h1v1h-1zM269 346h1v1h-1zM386 346h1v1h-1zM269 347h1v1h-1zM386 347h1v1h-1zM269 348h1v1h-1zM386 348h1v1h-1zM269 349h1v1h-1zM386 349h1v1h-1zM269 350h1v1h-1zM386 350h1v1h-1zM269 351h1v1h-1zM386 351h1v1h-1zM270 352h1v1h-1zM385 352h1v1h-1zM270 353h1v1h-1zM385 353h1v1h-1zM270 354h1v1h-1zM385 354h1v1h-1zM271 355h1v1h-1zM384 355h1v1h-1zM271 356h1v1h-1zM384 356h1v1h-1zM272 357h1v1h-1zM383 357h1v1h-1zM273 358h1v1h-1zM382 358h1v1h-1zM273 359h1v1h-1zM382 359h1v1h-1zM274 360h1v1h-1zM381 360h1v1h-1zM275 361h1v1h-1zM380 361h1v1h-1zM276 362h2v1h-2zM378 362h2v1h-2zM278 363h1v1h-1zM377 363h1v1h-1zM279 364h1v1h-1zM376 364h1v1h-1zM280 365h2v1h-2zM374 365h2v1h-2zM282 366h1v1h-1zM373 366h1v1h-1zM283 367h2v1h-2zM371 367h2v1h-2zM285 368h2v1h-2zM369 368h2v1h-2zM287 369h3v1h-3zM366 369h3v1h-3zM290 370h2v1h-2zM364 370h2v1h-2zM292 371h3v1h-3zM361 371h3v1h-3zM295 372h3v1h-3zM358 372h3v1h-3zM298 373h4v1h-4zM354 373h4v1h-4zM302 374h4v1h-4zM350 374h4v1h-4zM306 375h7v1h-7zM343 375h7v1h-7zM313 376h30v1h-30z"/><path fill="#82c0a2" d="M486 284h30v1h-30zM479 285h44v1h-44zM475 286h52v1h-52zM471 287h60v1h-60zM468 288h66v1h-66zM465 289h72v1h-72zM463 290h76v1h-76zM460 291h82v1h-82zM458 292h86v1h-86zM456 293h90v1h-90zM455 294h92v1h-92zM453 295h96v1h-96zM452 296h98v1h-98zM451 297h100v1h-100zM449 298h104v1h-104zM448 299h106v1h-106zM447 300h108v1h-108zM447 301h108v1h-108zM446 302h110v1h-110zM445 303h112v1h-112zM445 304h112v1h-112zM444 305h114v1h-114zM444 306h114v1h-114zM444 307h114v1h-114zM443 308h116v1h-116zM443 309h116v1h-116zM443 310h116v1h-116zM443 311h116v1h-116zM443 312h116v1h-116zM443 313h116v1h-116zM443 314h116v1h-116zM443 315h116v1h-116zM444 316h114v1h-114zM444 317h114v1h-114zM444 318h114v1h-114zM445 319h112v1h-112zM445 320h112v1h-112zM446 321h110v1h-110zM447 322h108v1h-108zM447 323h108v1h-108zM448 324h106v1h-106zM449 325h104v1h-104zM451 326h100v1h-100zM452 327h98v1h-98zM453 328h96v1h-96zM455 329h92v1h-92zM456 330h90v1h-90zM458 331h86v1h-86zM460 332h82v1h-82zM463 333h76v1h-76zM465 334h72v1h-72zM468 335h66v1h-66zM471 336h60v1h-60zM475 337h52v1h-52zM479 338h44v1h-44zM486 339h30v1h-30z"/><path fill="#000" d="M486 283h30v1h-30zM479 284h7v1h-7zM516 284h7v1h-7zM475 285h4v1h-4zM523 285h4v1h-4zM471 286h4v1h-4zM527 286h4v1h-4zM468 287h3v1h-3zM531 287h3v1h-3zM465 288h3v1h-3zM534 288h3v1h-3zM463 289h2v1h-2zM537 289h2v1h-2zM460 290h3v1h-3zM539 290h3v1h-3zM458 291h2v1h-2zM542 291h2v1h-2zM456 292h2v1h-2zM544 292h2v1h-2zM455 293h1v1h-1zM546 293h1v1h-1zM453 294h2v1h-2zM547 294h2v1h-2zM452 295h1v1h-1zM549 295h1v1h-1zM451 296h1v1h-1zM550 296h1v1h-1zM449 297h2v1h-2zM551 297h2v1h-2zM448 298h1v1h-1zM553 298h1v1h-1zM447 299h1v1h-1zM554 299h1v1h-1zM446 300h1v1h-1zM555 300h1v1h-1zM446 301h1v1h-1zM555 301h1v1h-1zM445 302h1v1h-1zM556 302h1v1h-1zM444 303h1v1h-1zM557 303h1v1h-1zM444 304h1v1h-1zM557 304h1v1h-1zM443 305h1v1h-1zM558 305h1v1h-1zM443 306h1v1h-1zM558 306h1v1h-1zM443 307h1v1h-1zM558 307h1v1h-1zM442 308h1v1h-1zM559 308h1v1h-1zM442 309h1v1h-1zM559 309h1v1h-1zM442 310h1v1h-1zM559 310h1v1h-1zM442 311h1v1h-1zM559 311h1v1h-1zM442 312h1v1h-1zM559 312h1v1h-1zM442 313h1v1h-1zM559 313h1v1h-1zM442 314h1v1h-1zM559 314h1v1h-1zM442 315h1v1h-1zM559 315h1v1h-1zM443 316h1v1h-1zM558 316h1v1h-1zM443 317h1v1h-1zM558 317h1v1h-1zM443 318h1v1h-1zM558 318h1v1h-1zM444 319h1v1h-1zM557 319h1v1h-1zM444 320h1v1h-1zM557 320h1v1h-1zM445 321h1v1h-1zM556 321h1v1h-1zM446 322h1v1h-1zM555 322h1v1h-1zM446 323h1v1h-1zM555 323h1v1h-1zM447 324h1v1h-1zM554 324h1v1h-1zM448 325h1v1h-1zM553 325h1v1h-1zM449 326h2v1h-2zM551 326h2v1h-2zM451 327h1v1h-1zM550 327h1v1h-1zM452 328h1v1h-1zM549 328h1v1h-1zM453 329h2v1h-2zM547 329h2v1h-2zM455 330h1v1h-1zM546 330h1v1h-1zM456 331h2v1h-2zM544 331h2v1h-2zM458 332h2v1h-2zM542 332h2v1h-2zM460 333h3v1h-3zM539 333h3v1h-3zM463 334h2v1h-2zM537 334h2v1h-2zM465 335h3v1h-3zM534 335h3v1h-3zM468 336h3v1h-3zM531 336h3v1h-3zM471 337h4v1h-4zM527 337h4v1h-4zM475 338h4v1h-4zM523 338h4v1h-4zM479 339h7v1h-7zM516 339h7v1h-7zM486 340h30v1h-30z"/><rect fill="#000" x="38" y="80" width="206" height="2"/><rect fill="#000" x="242" y="30" width="2" height="52"/><rect x="33.5" y="25.5" width="208" height="54" fill="#e3e3e3" stroke="#000"/><rect fill="#000" x="419" y="80" width="206" height="2"/><rect fill="#000" x="623" y="30" width="2" height="52"/><rect x="414.5" y="25.5" width="208" height="54" fill="#e3e3e3" stroke="#000"/><rect fill="#000" x="211" y="169" width="241" height="2"/><rect fill="#000" x="450" y="120" width="2" height="51"/><rect x="206.5" y="115.5" width="243" height="53" fill="#e3e3e3" stroke="#000"/><rect x="70.5" y="461.5" width="193" height="107" fill="#fff" stroke="#000"/><rect x="67.5" y="464.5" width="193" height="107" fill="#fff" stroke="#000"/><rect x="64.5" y="467.5" width="193" height="107" fill="#fff" stroke="#000"/><rect x="61.5" y="470.5" width="193" height="107" fill="#fff" stroke="#000"/><rect x="58.5" y="473.5" width="193" height="107" fill="#e3e3e3" stroke="#000"/><rect x="243.5" y="389.5" width="193" height="107" fill="#fff" stroke="#000"/><rect x="240.5" y="392.5" width="193" height="107" fill="#fff" stroke="#000"/><rect x="237.5" y="395.5" width="193" height="107" fill="#fff" stroke="#000"/><rect x="234.5" y="398.5" width="193" height="107" fill="#fff" stroke="#000"/><rect x="231.5" y="401.5" width="193" height="107" fill="#e3e3e3" stroke="#000"/><rect x="416.5" y="353.5" width="193" height="108" fill="#fff" stroke="#000"/><rect x="413.5" y="356.5" width="193" height="108" fill="#fff" stroke="#000"/><rect x="410.5" y="359.5" width="193" height="108" fill="#fff" stroke="#000"/><rect x="407.5" y="362.5" width="193" height="108" fill="#fff" stroke="#000"/><rect x="404.5" y="365.5" width="193" height="108" fill="#e3e3e3" stroke="#000"/><rect fill="#000" x="135" y="484" width="47" height="2"/><rect fill="#000" x="180" y="467" width="2" height="19"/><rect x="130.5" y="462.5" width="49" height="21" fill="#e3e3e3" stroke="#000"/><rect fill="#000" x="308" y="412" width="47" height="2"/><rect fill="#000" x="353" y="395" width="2" height="19"/><rect x="303.5" y="390.5" width="49" height="21" fill="#e3e3e3" stroke="#000"/><rect fill="#000" x="481" y="377" width="47" height="2"/><rect fill="#000" x="526" y="360" width="2" height="19"/><rect x="476.5" y="355.5" width="49" height="21" fill="#e3e3e3" stroke="#000"/><defs><filter id="thr" x="0" y="0" width="659" height="607" filterUnits="userSpaceOnUse"><feComponentTransfer><feFuncA type="discrete" tableValues="0 1 1"/></feComponentTransfer></filter></defs><g fill="#000" text-anchor="middle" font-family="Liberation Sans, sans-serif" filter="url(#thr)"><text x="137.50" y="57.00" font-size="16.05" font-weight="normal" stroke="#000" stroke-width="0.35" letter-spacing="1.0" textLength="148.00" lengthAdjust="spacingAndGlyphs">Calling Geant online</text><text x="517.00" y="57.00" font-size="14.60" font-weight="normal" stroke="#000" stroke-width="0.35" letter-spacing="1.0" textLength="155.00" lengthAdjust="spacingAndGlyphs">Zebra FZ or equivalent</text><text x="328.00" y="146.00" font-size="13.08" font-weight="bold" letter-spacing="0.5" textLength="191.00" lengthAdjust="spacingAndGlyphs">Structures JKINE, JHITS, JDIGI</text><text x="120.00" y="145.00" font-size="16.05" font-weight="normal" stroke="#000" stroke-width="0.35" letter-spacing="1.0" textLength="65.00" lengthAdjust="spacingAndGlyphs">GUSTEP</text><text x="120.50" y="170.00" font-size="16.05" font-weight="normal" stroke="#000" stroke-width="0.35" letter-spacing="1.0" textLength="60.00" lengthAdjust="spacingAndGlyphs">GUOUT</text><text x="155.00" y="342.00" font-size="14.60" font-weight="normal" stroke="#000" stroke-width="0.35" letter-spacing="1.0" textLength="115.00" lengthAdjust="spacingAndGlyphs">ImportGeantKine</text><text x="155.00" y="367.00" font-size="14.60" font-weight="normal" stroke="#000" stroke-width="0.35" letter-spacing="1.0" textLength="63.00" lengthAdjust="spacingAndGlyphs">FakeKine</text><text x="328.00" y="270.00" font-size="14.60" font-weight="normal" stroke="#000" stroke-width="0.35" letter-spacing="1.0" textLength="111.00" lengthAdjust="spacingAndGlyphs">ImportGeantHits</text><text x="327.50" y="295.00" font-size="14.60" font-weight="normal" stroke="#000" stroke-width="0.35" letter-spacing="1.0" textLength="60.00" lengthAdjust="spacingAndGlyphs">FakeHits</text><text x="501.00" y="234.00" font-size="14.60" font-weight="normal" stroke="#000" stroke-width="0.35" letter-spacing="1.0" textLength="125.00" lengthAdjust="spacingAndGlyphs">ImportGeantDigits</text><text x="501.50" y="259.00" font-size="14.60" font-weight="normal" stroke="#000" stroke-width="0.35" letter-spacing="1.0" textLength="72.00" lengthAdjust="spacingAndGlyphs">FakeDigits</text><text x="155.00" y="424.00" font-size="18.90" font-weight="bold" letter-spacing="0.5" textLength="93.00" lengthAdjust="spacingAndGlyphs">AddParticle</text><text x="327.50" y="352.00" font-size="18.90" font-weight="bold" letter-spacing="0.5" textLength="56.00" lengthAdjust="spacingAndGlyphs">AddHit</text><text x="500.50" y="317.00" font-size="18.90" font-weight="bold" letter-spacing="0.5" textLength="72.00" lengthAdjust="spacingAndGlyphs">AddDigit</text><text x="154.50" y="476.00" font-size="11.63" font-weight="bold" letter-spacing="0.5" textLength="40.00" lengthAdjust="spacingAndGlyphs">Tree TK</text><text x="328.50" y="404.00" font-size="11.63" font-weight="bold" letter-spacing="0.5" textLength="42.00" lengthAdjust="spacingAndGlyphs">Tree TH</text><text x="501.00" y="368.00" font-size="11.63" font-weight="bold" letter-spacing="0.5" textLength="41.00" lengthAdjust="spacingAndGlyphs">Tree TD</text><text x="154.50" y="518.00" font-size="20.57" font-weight="bold" letter-spacing="0.5" textLength="124.00" lengthAdjust="spacingAndGlyphs">TClonesArray</text><text x="155.50" y="545.00" font-size="20.57" font-weight="bold" letter-spacing="0.5" textLength="110.00" lengthAdjust="spacingAndGlyphs">of fParticles</text><text x="328.50" y="438.00" font-size="20.57" font-weight="bold" letter-spacing="0.5" textLength="138.00" lengthAdjust="spacingAndGlyphs">a TClonesArray</text><text x="329.00" y="460.00" font-size="20.57" font-weight="bold" letter-spacing="0.5" textLength="67.00" lengthAdjust="spacingAndGlyphs">of fHits</text><text x="327.50" y="481.00" font-size="20.35" font-weight="bold" letter-spacing="0.5" textLength="122.00" lengthAdjust="spacingAndGlyphs">per Geant set</text><text x="501.50" y="402.00" font-size="20.57" font-weight="bold" letter-spacing="0.5" textLength="138.00" lengthAdjust="spacingAndGlyphs">a TClonesArray</text><text x="502.00" y="424.00" font-size="20.57" font-weight="bold" letter-spacing="0.5" textLength="85.00" lengthAdjust="spacingAndGlyphs">of fDigits</text><text x="500.50" y="445.00" font-size="20.35" font-weight="bold" letter-spacing="0.5" textLength="122.00" lengthAdjust="spacingAndGlyphs">per Geant set</text></g>
</svg>
</body></html>
